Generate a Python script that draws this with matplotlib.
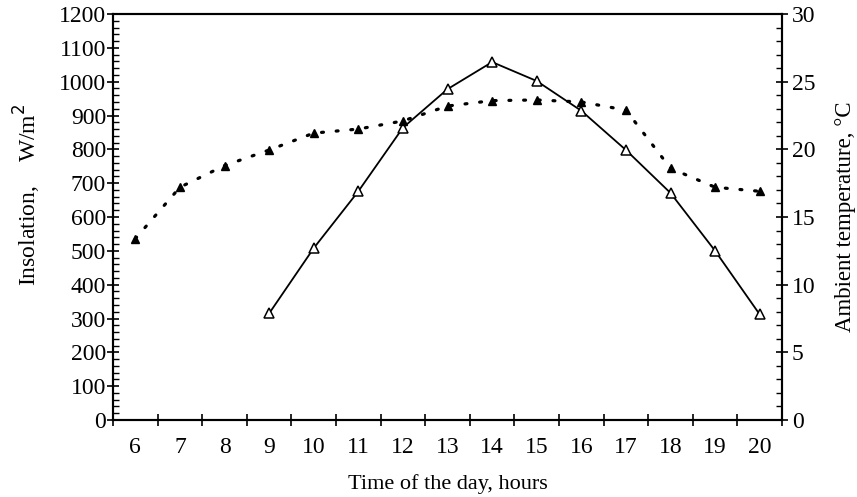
import numpy as np
import matplotlib.pyplot as plt
from matplotlib.ticker import MultipleLocator

# 数据
hours = [6, 7, 8, 9, 10, 11, 12, 13, 14, 15, 16, 17, 18, 19, 20]
ins_hours = [9, 10, 11, 12, 13, 14, 15, 16, 17, 18, 19, 20]
insolation = [315, 508, 676, 864, 978, 1058, 1002, 914, 798, 671, 500, 312]
temperature = [13.4, 17.2, 18.8, 19.95, 21.2, 21.5, 22.1, 23.2, 23.6, 23.65, 23.5, 22.9, 18.6, 17.2, 16.9]

plt.rcParams['font.family'] = ['Liberation Serif', 'DejaVu Serif']

fig = plt.figure(figsize=(8.57, 4.97), dpi=100)
ax = fig.add_axes([0.1319, 0.1549, 0.7806, 0.8169])
ax2 = ax.twinx()

# 日照强度（实线+空心三角）
ax.plot(ins_hours, insolation, color='black', lw=1.3, marker='^', ms=6.5,
        mfc='white', mec='black', mew=1.1)
# 环境温度（虚线+实心三角）
ax2.plot(hours, temperature, color='black', lw=2.3, ls=(0, (0.6, 4.0)),
         dash_capstyle='round', marker='^', ms=5.5, mfc='black', mec='black')

ax.set_xlim(5.5, 20.5)
ax.set_ylim(0, 1200)
ax2.set_ylim(0, 30)

ax.set_xticks(hours)
ax.set_xticklabels([str(h) for h in hours])
ax.set_xticks(np.arange(5.5, 21, 1), minor=True)
ax.tick_params(axis='x', which='major', length=0, pad=12, labelsize=17)
ax.tick_params(axis='x', which='minor', direction='inout', length=9, width=1.2)

ax.yaxis.set_major_locator(MultipleLocator(100))
ax.yaxis.set_minor_locator(MultipleLocator(20))
ax.tick_params(axis='y', which='major', direction='inout', length=8, width=1.2, labelsize=17, pad=1)
ax.tick_params(axis='y', which='minor', direction='in', length=4, width=1)

ax2.yaxis.set_major_locator(MultipleLocator(5))
ax2.yaxis.set_minor_locator(MultipleLocator(1))
ax2.tick_params(axis='y', which='major', direction='inout', length=8, width=1.2, labelsize=17, pad=3)
ax2.tick_params(axis='y', which='minor', direction='in', length=4, width=1)

for a in (ax, ax2):
    for s in a.spines.values():
        s.set_linewidth(1.5)

ax.set_xlabel('Time of the day, hours', fontsize=16, labelpad=12)
ax.set_ylabel('Insolation,    W/m$^2$', fontsize=17)
ax.yaxis.set_label_coords(-0.104, 0.555)
ax2.set_ylabel('Ambient temperature, \u00b0C', fontsize=16.5, labelpad=14)

fig.savefig('out.png', dpi=100)
